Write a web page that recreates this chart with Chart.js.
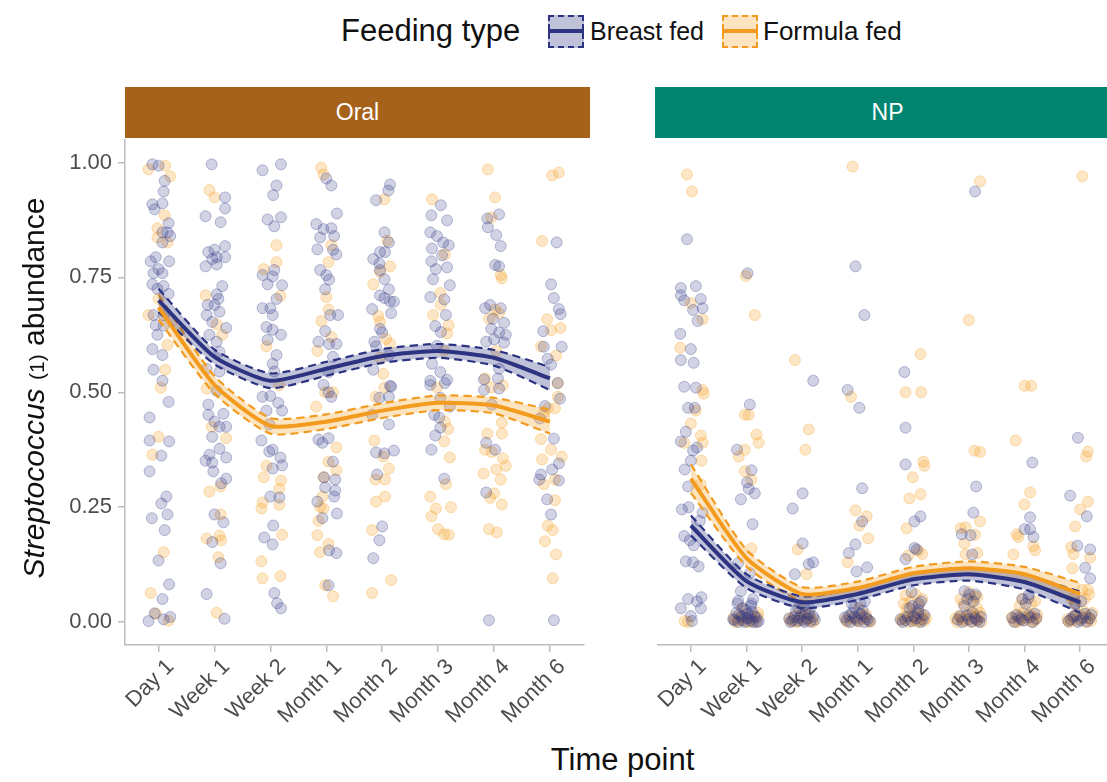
<!DOCTYPE html>
<html>
<head>
<meta charset="utf-8">
<script src="https://cdn.jsdelivr.net/npm/chart.js@4"></script>
<style>
  html, body { margin: 0; padding: 0; overflow: hidden; background: #fff; }
  body { width: 1107px; height: 782px; position: relative; font-family: "Liberation Sans", Arial, sans-serif; }
  .abs { position: absolute; }
  .strip { position: absolute; top: 87px; height: 51px; width: 465px; color: #fff; font-size: 23px;
           display: flex; align-items: center; justify-content: center; }
  .key { position: absolute; top: 15px; width: 32px; height: 29px; border: 2px dashed; }
  .key i { position: absolute; left: -2px; right: -2px; top: 12px; height: 4px; }
  .lab { position: absolute; top: 13px; line-height: 36px; font-size: 25px; color: #111; }
</style>
</head>
<body>

<div class="lab" style="left:341px; font-size:31px;">Feeding type</div>
<div class="key" style="left:548px; background:rgba(44,52,130,0.3); border-color:#2c3482;"><i style="background:#2c3482"></i></div>
<div class="lab" style="left:590px;">Breast fed</div>
<div class="key" style="left:722px; background:rgba(245,165,45,0.3); border-color:#f29b1e;"><i style="background:#f29b1e"></i></div>
<div class="lab" style="left:763px; font-size:26px;">Formula fed</div>

<div class="strip" style="left:125px; background:#a6611a;">Oral</div>
<div class="strip" style="left:655px; background:#018571;">NP</div>

<div class="abs" style="left:0; top:133px;"><canvas id="oral" width="590" height="604"></canvas></div>
<div class="abs" style="left:651px; top:133px;"><canvas id="np" width="469" height="604"></canvas></div>

<div class="abs" style="left:-216px; top:371px; width:500px; text-align:center; font-size:30px; color:#111; transform:rotate(-90deg);">
  <i>Streptococcus</i> <span style="font-size:21px;">(1)</span> abundance
</div>
<div class="abs" style="left:125px; top:742px; width:995px; text-align:center; font-size:31px; color:#111;">Time point</div>

<script>
const timePoints = ['Day 1', 'Week 1', 'Week 2', 'Month 1', 'Month 2', 'Month 3', 'Month 4', 'Month 6'];
const yTicks = [0, 0.25, 0.5, 0.75, 1];

// smoothed fits with confidence limits, one value per time point
const oralBreastFit = [0.700, 0.577, 0.525, 0.551, 0.579, 0.590, 0.575, 0.530];
const oralBreastHi  = [0.725, 0.593, 0.541, 0.566, 0.594, 0.605, 0.592, 0.555];
const oralBreastLo  = [0.675, 0.561, 0.509, 0.536, 0.564, 0.575, 0.558, 0.505];
const oralFormulaFit = [0.685, 0.516, 0.427, 0.436, 0.460, 0.477, 0.471, 0.436];
const oralFormulaHi  = [0.712, 0.535, 0.444, 0.452, 0.476, 0.493, 0.488, 0.462];
const oralFormulaLo  = [0.658, 0.497, 0.410, 0.420, 0.444, 0.461, 0.454, 0.410];
const npBreastFit = [0.210, 0.089, 0.043, 0.061, 0.093, 0.104, 0.087, 0.043];
const npBreastHi  = [0.232, 0.104, 0.056, 0.074, 0.106, 0.118, 0.103, 0.066];
const npBreastLo  = [0.188, 0.074, 0.030, 0.048, 0.080, 0.090, 0.071, 0.020];
const npFormulaFit = [0.312, 0.139, 0.061, 0.074, 0.106, 0.117, 0.104, 0.061];
const npFormulaHi  = [0.343, 0.157, 0.076, 0.088, 0.120, 0.132, 0.120, 0.085];
const npFormulaLo  = [0.281, 0.121, 0.046, 0.060, 0.092, 0.102, 0.088, 0.037];

// samples per time point as [jitter offset, abundance]
const oralBreastPts = [
  [[-0.11,0.996],[0,0.993],[0.11,0.96],[0.09,0.937],[0.07,0.911],[-0.11,0.909],[-0.07,0.898],[0.18,0.868],[0.16,0.848],[0.07,0.848],[0.21,0.84],[0.07,0.826],[-0.05,0.794],[-0.14,0.785],[0.19,0.785],[0,0.768],[-0.09,0.759],[0.07,0.759],[-0.11,0.735],[0.09,0.731],[-0.02,0.725],[0.18,0.714],[-0.09,0.668],[0.09,0.668],[-0.05,0.646],[0.09,0.645],[-0.02,0.625],[-0.11,0.594],[0.07,0.581],[-0.09,0.549],[0.07,0.525],[0.18,0.479],[-0.16,0.445],[-0.16,0.395],[0.19,0.393],[0.05,0.362],[-0.16,0.328],[0.14,0.273],[0.05,0.258],[-0.12,0.226],[0.16,0.234],[0.11,0.2],[0,0.134],[0.19,0.082],[0.07,0.05],[-0.07,0.019],[-0.18,0.002],[0.09,0.006],[0.21,0.011]],
  [[-0.05,0.996],[0.19,0.924],[0.19,0.9],[-0.16,0.883],[0.11,0.87],[0.19,0.818],[-0.11,0.805],[0,0.81],[0.04,0.794],[0.19,0.794],[-0.04,0.79],[-0.16,0.774],[0.04,0.778],[0.14,0.731],[0.04,0.713],[0.07,0.703],[-0.12,0.69],[0,0.69],[-0.14,0.668],[0.09,0.675],[-0.04,0.653],[0.21,0.64],[-0.09,0.625],[0.04,0.61],[0.09,0.588],[-0.14,0.551],[0.09,0.545],[0.04,0.503],[-0.11,0.473],[0.16,0.453],[-0.11,0.451],[0,0.436],[0.09,0.425],[0.21,0.425],[-0.04,0.403],[0.09,0.377],[-0.09,0.364],[0.21,0.358],[-0.16,0.351],[-0.04,0.347],[-0.02,0.328],[0.21,0.312],[0.12,0.302],[0,0.234],[0.16,0.217],[-0.04,0.174],[0.11,0.128],[-0.14,0.061],[0.18,0.007]],
  [[-0.14,0.983],[0.19,0.996],[0.11,0.95],[0.05,0.929],[-0.05,0.876],[0.19,0.881],[0.07,0.861],[0.07,0.766],[-0.14,0.755],[0.04,0.752],[-0.05,0.735],[0.21,0.733],[0.11,0.703],[-0.14,0.683],[0,0.683],[0.04,0.668],[-0.07,0.642],[0.04,0.636],[0.19,0.625],[-0.05,0.614],[0.11,0.581],[0.04,0.562],[0.07,0.545],[-0.14,0.49],[0,0.492],[0.14,0.477],[-0.07,0.46],[0.21,0.46],[-0.02,0.43],[-0.16,0.395],[-0.02,0.371],[0.04,0.375],[0.18,0.358],[0.04,0.334],[0.21,0.341],[0,0.273],[0.16,0.271],[0.05,0.21],[-0.11,0.184],[0.04,0.169],[0.07,0.063],[0.12,0.041],[0.19,0.03]],
  [[0,0.965],[0.09,0.95],[0.19,0.889],[-0.18,0.866],[-0.05,0.855],[0.09,0.857],[-0.11,0.837],[0.14,0.84],[-0.16,0.811],[0.12,0.81],[0.18,0.8],[-0.11,0.766],[0,0.755],[0.05,0.745],[-0.02,0.724],[0.07,0.668],[0.21,0.668],[-0.02,0.633],[0.05,0.605],[-0.14,0.61],[0.18,0.605],[0.12,0.577],[0.04,0.544],[-0.05,0.516],[0.04,0.5],[0.09,0.49],[-0.14,0.397],[-0.07,0.39],[0.04,0.4],[0.12,0.349],[-0.04,0.315],[0.16,0.31],[-0.02,0.293],[0.16,0.286],[0.14,0.273],[-0.16,0.262],[0.19,0.236],[-0.07,0.226],[0.05,0.156],[0.18,0.15],[0.04,0.08]],
  [[0.14,0.952],[0.11,0.939],[-0.11,0.918],[0.04,0.848],[0.12,0.826],[-0.04,0.805],[0.05,0.805],[-0.16,0.79],[-0.05,0.78],[-0.04,0.766],[0.04,0.746],[0.12,0.724],[-0.04,0.711],[0.04,0.705],[0.14,0.698],[0.21,0.697],[-0.18,0.681],[0.16,0.672],[-0.04,0.638],[0,0.63],[-0.14,0.61],[-0.11,0.6],[0.12,0.581],[-0.16,0.549],[0.14,0.514],[0.16,0.512],[0.12,0.49],[-0.05,0.488],[-0.18,0.451],[0.12,0.43],[-0.11,0.369],[0.04,0.367],[0.21,0.373],[-0.09,0.321],[0,0.208],[-0.05,0.178],[-0.16,0.139]],
  [[0.05,0.907],[-0.12,0.885],[0.16,0.874],[-0.14,0.848],[-0.02,0.84],[0.09,0.826],[0.19,0.82],[-0.11,0.813],[0.07,0.798],[-0.12,0.785],[0.16,0.772],[-0.04,0.768],[-0.09,0.746],[0.21,0.733],[-0.14,0.707],[0.11,0.702],[0.14,0.668],[-0.05,0.644],[0.05,0.631],[-0.02,0.601],[-0.11,0.562],[0.04,0.544],[0.16,0.527],[-0.14,0.525],[-0.14,0.516],[0.12,0.52],[0.04,0.488],[0.21,0.469],[-0.07,0.451],[0.02,0.445],[0.04,0.423],[-0.05,0.406],[-0.12,0.375],[0.11,0.312]],
  [[0.09,0.887],[-0.12,0.878],[-0.11,0.859],[0.04,0.842],[0.12,0.818],[0.02,0.777],[0.09,0.774],[-0.07,0.69],[-0.16,0.683],[0.12,0.683],[-0.02,0.66],[0.18,0.651],[-0.05,0.638],[0.09,0.63],[0.21,0.625],[0,0.615],[-0.14,0.61],[0.18,0.608],[0.09,0.551],[-0.18,0.528],[0.07,0.53],[-0.18,0.505],[0.09,0.508],[-0.04,0.473],[-0.14,0.39],[0.02,0.375],[-0.14,0.282],[-0.09,0.004]],
  [[0.12,0.826],[0.02,0.735],[0.07,0.705],[0.16,0.681],[0.19,0.67],[-0.12,0.633],[-0.11,0.599],[0.21,0.599],[-0.04,0.573],[0.02,0.56],[0.14,0.52],[0.18,0.486],[-0.09,0.47],[-0.18,0.443],[0.07,0.399],[0.16,0.345],[0.04,0.332],[-0.16,0.321],[0.16,0.308],[-0.19,0.31],[-0.05,0.267],[0.02,0.234],[0.07,0.004]]
];
const oralFormulaPts = [
  [[-0.18,0.985],[0.12,0.993],[0.21,0.97],[0.11,0.885],[-0.02,0.857],[-0.02,0.837],[0.16,0.826],[0,0.703],[-0.18,0.668],[0.16,0.603],[0.12,0.549],[0.04,0.51],[0,0.403],[-0.11,0.364],[0.09,0.152],[-0.14,0.063],[-0.05,0.018],[0.18,0.003]],
  [[-0.09,0.94],[0,0.924],[-0.16,0.711],[0.04,0.648],[0.14,0.625],[-0.14,0.508],[-0.05,0.425],[0.21,0.4],[0.11,0.295],[-0.09,0.284],[0.11,0.234],[-0.14,0.182],[0.09,0.188],[0.12,0.178],[0.07,0.141],[0.04,0.02]],
  [[0.11,0.82],[0.11,0.783],[-0.12,0.768],[0.18,0.71],[-0.07,0.6],[0.16,0.515],[-0.07,0.34],[-0.12,0.315],[0.19,0.308],[0.16,0.29],[-0.14,0.26],[-0.16,0.247],[0.16,0.255],[0.21,0.19],[-0.16,0.132],[-0.14,0.095],[0.18,0.1]],
  [[-0.09,0.989],[-0.05,0.974],[0.09,0.82],[0.04,0.783],[0,0.707],[0.04,0.68],[-0.09,0.655],[0.09,0.62],[-0.16,0.59],[-0.02,0.5],[0.12,0.5],[-0.18,0.469],[0.18,0.38],[0.04,0.349],[0.18,0.33],[-0.05,0.315],[-0.07,0.273],[-0.05,0.247],[-0.11,0.25],[-0.14,0.22],[-0.16,0.189],[0.04,0.17],[-0.11,0.152],[-0.02,0.08],[0.12,0.056]],
  [[0.04,0.92],[0.09,0.83],[0.14,0.774],[-0.04,0.762],[-0.16,0.735],[-0.07,0.666],[-0.04,0.653],[0.07,0.616],[0.14,0.606],[-0.04,0.575],[0.02,0.54],[0.04,0.51],[-0.12,0.49],[-0.14,0.395],[0.02,0.36],[0.12,0.334],[0.05,0.31],[-0.12,0.31],[0.05,0.273],[-0.11,0.262],[-0.18,0.2],[0.16,0.091],[-0.18,0.063]],
  [[-0.11,0.92],[0.12,0.8],[0.04,0.716],[0.05,0.69],[-0.09,0.668],[0.19,0.646],[0.16,0.628],[0.11,0.59],[-0.02,0.51],[0.12,0.436],[0.18,0.42],[0.11,0.393],[0.21,0.358],[0.14,0.3],[-0.14,0.273],[-0.04,0.247],[0.23,0.25],[-0.12,0.23],[0,0.202],[0.11,0.191],[0.19,0.19]],
  [[-0.11,0.985],[0.02,0.924],[-0.05,0.88],[0.12,0.755],[0.14,0.748],[0.02,0.68],[0.09,0.672],[-0.09,0.66],[0.04,0.59],[-0.16,0.53],[-0.05,0.51],[0.16,0.515],[0.14,0.434],[-0.12,0.41],[0.14,0.41],[-0.16,0.375],[-0.04,0.37],[0.16,0.356],[0.21,0.34],[0.04,0.332],[-0.19,0.323],[0.12,0.31],[0,0.28],[-0.07,0.27],[0.14,0.256],[-0.09,0.202],[0.05,0.195]],
  [[0.04,0.972],[0.16,0.978],[-0.14,0.829],[-0.05,0.659],[0.02,0.635],[0.19,0.64],[-0.16,0.6],[0.11,0.58],[0.14,0.52],[0.14,0.49],[-0.11,0.455],[-0.04,0.465],[0.09,0.465],[-0.16,0.398],[0.02,0.375],[-0.14,0.354],[0.21,0.36],[0.09,0.31],[-0.11,0.3],[0.09,0.265],[-0.04,0.21],[0.05,0.2],[-0.09,0.176],[0.11,0.147],[0.05,0.095]]
];
const npBreastPts = [
  [[-0.07,0.833],[-0.18,0.727],[0.09,0.731],[-0.18,0.711],[-0.12,0.7],[0.18,0.703],[0.21,0.683],[0.04,0.679],[0.12,0.655],[-0.19,0.627],[0,0.594],[-0.18,0.57],[0.05,0.564],[-0.12,0.512],[0.09,0.51],[-0.05,0.466],[0.07,0.466],[-0.09,0.414],[-0.18,0.393],[0.04,0.373],[0.11,0.38],[0,0.351],[-0.11,0.332],[-0.05,0.295],[-0.16,0.245],[-0.04,0.25],[0.21,0.238],[0.16,0.22],[-0.12,0.187],[-0.02,0.178],[0.05,0.167],[-0.09,0.132],[0.04,0.13],[0.14,0.121],[0.19,0.054],[-0.05,0.05],[0.11,0.045],[-0.18,0.03],[0.18,0.03],[0,0.013],[0.02,0.002]],
  [[0.02,0.759],[0.06,0.473],[-0.17,0.375],[0.09,0.33],[0.01,0.304],[0.04,0.29],[0.15,0.28],[-0.1,0.267],[0.11,0.213],[-0.15,0.128],[0.06,0.106],[-0.1,0.067],[-0.15,0.046],[0.09,0.04],
   [-0.22,0.004],[-0.15,0],[-0.09,0.012],[-0.03,0],[0.02,0.018],[0.07,0.003],[0.12,0],[0.17,0.01],[0.22,0.002],[-0.18,0.02],[0,0.008],[0.1,0.022],[-0.06,0.03],
   [-0.24,0.006],[-0.13,0.016],[-0.07,0.004],[0.04,0.009],[0.14,0.013],[0.19,0],[-0.01,0.026],[0.08,0.035],[-0.16,0.04],[0.12,0.05]],
  [[0.2,0.525],[0.01,0.28],[-0.17,0.247],[0.01,0.171],[0.12,0.126],[0.2,0.13],[-0.13,0.104],
   [-0.21,0],[-0.14,0.01],[-0.08,0.002],[-0.02,0.015],[0.04,0],[0.09,0.007],[0.15,0.001],[0.2,0.012],[-0.11,0.025],[0.06,0.02],
   [-0.23,0.008],[-0.17,0.003],[-0.05,0.009],[0.01,0.004],[0.12,0.018],[0.23,0.005],[-0.07,0.03],[0.03,0.035],[0.14,0.028]],
  [[-0.04,0.774],[0.12,0.668],[-0.18,0.505],[0.03,0.466],[0.08,0.291],[0.08,0.219],[-0.04,0.169],[-0.16,0.15],[0.17,0.119],[-0.02,0.11],[-0.11,0.04],
   [-0.2,0.003],[-0.13,0],[-0.06,0.011],[0,0.002],[0.06,0.016],[0.12,0],[0.18,0.006],[-0.1,0.02],[0.09,0.025],
   [-0.23,0.01],[-0.16,0.014],[-0.03,0.007],[0.03,0.019],[0.15,0.01],[0.22,0.002],[-0.06,0.032],[0.05,0.04],[0.13,0.045]],
  [[-0.16,0.544],[-0.14,0.423],[-0.14,0.343],[0.13,0.23],[0.02,0.219],[0.02,0.161],[0.06,0.158],[-0.14,0.137],[-0.03,0.065],[0.09,0.026],
   [-0.19,0],[-0.1,0.012],[-0.03,0.002],[0.05,0.008],[0.13,0],[0.2,0.015],[-0.07,0.03],[0.1,0.04],
   [-0.23,0.006],[-0.14,0.004],[0.01,0.012],[0.09,0.02],[0.17,0.005],[-0.02,0.035],[0.14,0.045]],
  [[0.11,0.937],[0.13,0.295],[0.08,0.238],[-0.13,0.191],[0.03,0.189],[0.06,0.147],[-0.08,0.067],[0.01,0.06],
   [-0.2,0.005],[-0.12,0],[-0.04,0.014],[0.04,0.001],[0.11,0.009],[0.19,0],[-0.08,0.035],[0.08,0.045],
   [-0.16,0.012],[0,0.006],[0.07,0.02],[0.15,0.004],[0.22,0.011],[-0.03,0.05],[0.12,0.06]],
  [[0.14,0.347],[0.1,0.228],[0,0.202],[0.1,0.202],[0.16,0.185],[0.07,0.052],
   [-0.18,0],[-0.1,0.01],[-0.02,0.003],[0.06,0.015],[0.14,0],[0.21,0.007],[0.02,0.04],
   [-0.22,0.009],[-0.14,0.015],[-0.06,0.006],[0.1,0.01],[0.18,0.018],[-0.04,0.05],[0.08,0.06]],
  [[-0.04,0.401],[-0.18,0.275],[0.12,0.23],[-0.05,0.166],[0.18,0.158],[0.09,0.118],[0.18,0.095],
   [-0.21,0.002],[-0.12,0.012],[-0.04,0],[0.05,0.009],[0.13,0.001],[0.2,0.016],[-0.08,0.04],
   [-0.17,0.006],[-0.08,0.014],[0.01,0.004],[0.09,0.018],[0.17,0.008],[0.02,0.045]]
];
const npFormulaPts = [
  [[-0.07,0.974],[0.02,0.937],[0,0.694],[0.21,0.659],[-0.19,0.597],[0.21,0.505],[0.23,0.497],[0.09,0.46],[0,0.432],[0.18,0.406],[-0.12,0.39],[0.21,0.39],[0.19,0.351],[0.18,0.3],[-0.11,0.002],[-0.05,0]],
  [[-0.01,0.753],[0.15,0.668],[-0.03,0.451],[0.04,0.451],[0.18,0.408],[0.22,0.39],[-0.03,0.375],[-0.14,0.36],[-0.03,0.328],[0.09,0.31],[0.09,0.16],
   [-0.2,0],[-0.11,0.007],[-0.01,0.002],[0.08,0.013],[0.16,0],[0.21,0.02],
   [-0.23,0.01],[-0.15,0.004],[-0.06,0.014],[0.03,0],[0.12,0.006],[0.2,0.012],[-0.08,0.03]],
  [[-0.13,0.57],[0.12,0.419],[0.06,0.375],[-0.08,0.158],[0.08,0.104],
   [-0.19,0.002],[-0.1,0],[-0.02,0.01],[0.07,0.003],[0.14,0.016],[0.2,0],
   [-0.23,0.006],[-0.14,0.013],[-0.06,0.004],[0.03,0.018],[0.1,0.008],[0.18,0.004],[-0.04,0.03]],
  [[-0.09,0.991],[-0.12,0.49],[-0.04,0.243],[0.03,0.21],[0.16,0.23],[0.19,0.182],[-0.18,0.13],
   [-0.18,0],[-0.08,0.009],[0.03,0.001],[0.11,0.014],[0.19,0.003],
   [-0.22,0.006],[-0.13,0.012],[-0.03,0.004],[0.07,0.008],[0.15,0.016],[0.22,0],[0.02,0.03]],
  [[0.13,0.583],[-0.14,0.5],[0.14,0.5],[0.18,0.349],[0.2,0.34],[-0.01,0.315],[-0.07,0.269],[0.13,0.278],[-0.12,0.204],[0.09,0.155],[0.16,0.148],[-0.09,0.145],[-0.14,0.058],
   [-0.22,0.003],[-0.16,0.012],[-0.09,0],[-0.03,0.018],[0.03,0.004],[0.08,0],[0.14,0.011],[0.2,0.002],[-0.12,0.03],[0.1,0.035],[0.16,0.05],
   [-0.19,0.007],[-0.06,0.006],[0,0.012],[0.05,0.022],[0.11,0.004],[0.17,0.016],[0.23,0.008],[-0.17,0.04],[0.04,0.06],[-0.05,0.045]],
  [[0.2,0.959],[0,0.657],[0.1,0.373],[0.2,0.37],[0.2,0.219],[-0.15,0.204],[-0.06,0.206],[0.11,0.19],[-0.08,0.171],[-0.06,0.147],[0.15,0.15],[0.15,0.055],
   [-0.21,0],[-0.14,0.009],[-0.07,0.002],[0,0.016],[0.06,0],[0.12,0.006],[0.18,0.013],[0.22,0],[-0.1,0.04],[0.05,0.045],[0.15,0.03],
   [-0.24,0.008],[-0.17,0.014],[-0.11,0.005],[-0.03,0.008],[0.03,0.022],[0.09,0.012],[0.15,0.004],[0.2,0.02],[-0.15,0.05],[0.1,0.055],[0,0.065]],
  [[0,0.514],[0.12,0.514],[-0.16,0.395],[0.1,0.282],[0,0.256],[-0.14,0.191],[-0.11,0.185],[0.19,0.156],[0.16,0.165],[-0.2,0.147],
   [-0.2,0.002],[-0.13,0],[-0.05,0.011],[0.02,0.004],[0.09,0.017],[0.15,0],[0.21,0.008],[-0.09,0.035],[0.12,0.04],
   [-0.23,0.01],[-0.16,0.016],[-0.09,0.004],[-0.02,0.02],[0.05,0.009],[0.12,0.013],[0.18,0.004],[0.23,0.016],[-0.04,0.05],[0.19,0.045]],
  [[0.04,0.97],[0.14,0.371],[0.11,0.36],[0.14,0.262],[0,0.245],[-0.09,0.208],[-0.16,0.163],[-0.12,0.148],[0.18,0.14],[-0.14,0.117],[0.14,0.07],
   [-0.2,0],[-0.13,0.01],[-0.05,0.003],[0.03,0.015],[0.1,0],[0.17,0.007],[0.22,0.02],[-0.1,0.04],[0.08,0.05],
   [-0.23,0.006],[-0.16,0.003],[-0.08,0.016],[0,0.008],[0.06,0.024],[0.13,0.012],[0.2,0.003],[-0.15,0.05],[0.16,0.06],[0.04,0.07]]
];

const NAVY = '#2c3482';
const ORANGE = '#f29b1e';
const TICK_GREY = '#4d4d4d';
const AXIS_GREY = '#bdbdbd';
const FONT = '"Liberation Sans", Arial, sans-serif';

function jittered(groups) {
  return groups.flatMap((g, i) => g.map(([dx, v]) => ({ x: i + dx, y: v })));
}
function curve(values) {
  return values.map((v, i) => ({ x: i, y: v }));
}

function fitLine(values, color) {
  return { type: 'line', data: curve(values), borderColor: color, borderWidth: 4,
           pointRadius: 0, tension: 0.2, fill: false };
}
function bandEdge(values, color, fillColor) {
  return { type: 'line', data: curve(values), borderColor: color, borderWidth: 2.2,
           borderDash: [8, 5], pointRadius: 0, tension: 0.2,
           fill: fillColor ? '-1' : false, backgroundColor: fillColor || 'transparent' };
}
function points(groups, fill, stroke) {
  return { type: 'scatter', data: jittered(groups), backgroundColor: fill, borderColor: stroke,
           borderWidth: 1, pointRadius: 5.5, showLine: false };
}

function makePanel(id, showY, bPts, fPts, bHi, bFit, bLo, fHi, fFit, fLo) {
  new Chart(document.getElementById(id), {
    type: 'scatter',
    data: {
      datasets: [
        fitLine(bFit, NAVY),
        fitLine(fFit, ORANGE),
        bandEdge(bHi, NAVY),
        bandEdge(bLo, NAVY, 'rgba(44,52,130,0.3)'),
        bandEdge(fHi, ORANGE),
        bandEdge(fLo, ORANGE, 'rgba(245,165,45,0.3)'),
        points(bPts, 'rgba(44,52,130,0.22)', 'rgba(44,52,130,0.3)'),
        points(fPts, 'rgba(245,165,45,0.28)', 'rgba(245,165,45,0.35)')
      ]
    },
    options: {
      responsive: false,
      animation: false,
      layout: { padding: 0 },
      plugins: { legend: { display: false }, tooltip: { enabled: false } },
      scales: {
        x: {
          type: 'linear', min: -0.6, max: 7.6,
          afterBuildTicks: (axis) => { axis.ticks = timePoints.map((_, i) => ({ value: i })); },
          afterFit: (axis) => { axis.height = 92; axis.paddingLeft = 0; axis.paddingRight = 0; },
          ticks: { callback: (v) => timePoints[v], autoSkip: false, minRotation: 45, maxRotation: 45,
                   color: TICK_GREY, font: { family: FONT, size: 22 }, padding: 2, labelOffset: 12 },
          grid: { drawOnChartArea: false, color: AXIS_GREY, tickLength: 7, lineWidth: 1.5 },
          border: { color: AXIS_GREY, width: 1.5 }
        },
        y: {
          display: showY,
          min: -0.05, max: 1.05,
          afterBuildTicks: (axis) => { axis.ticks = yTicks.map(v => ({ value: v })); },
          afterFit: (axis) => { axis.width = showY ? 125 : 0; axis.paddingTop = 0; axis.paddingBottom = 0; },
          ticks: { callback: (v) => v.toFixed(2), color: TICK_GREY, font: { family: FONT, size: 22 }, padding: 6 },
          grid: { drawOnChartArea: false, color: AXIS_GREY, tickLength: 7, lineWidth: 1.5 },
          border: { color: AXIS_GREY, width: 1.5 }
        }
      }
    }
  });
}

makePanel('oral', true, oralBreastPts, oralFormulaPts,
  oralBreastHi, oralBreastFit, oralBreastLo, oralFormulaHi, oralFormulaFit, oralFormulaLo);
makePanel('np', false, npBreastPts, npFormulaPts,
  npBreastHi, npBreastFit, npBreastLo, npFormulaHi, npFormulaFit, npFormulaLo);
</script>
</body>
</html>
